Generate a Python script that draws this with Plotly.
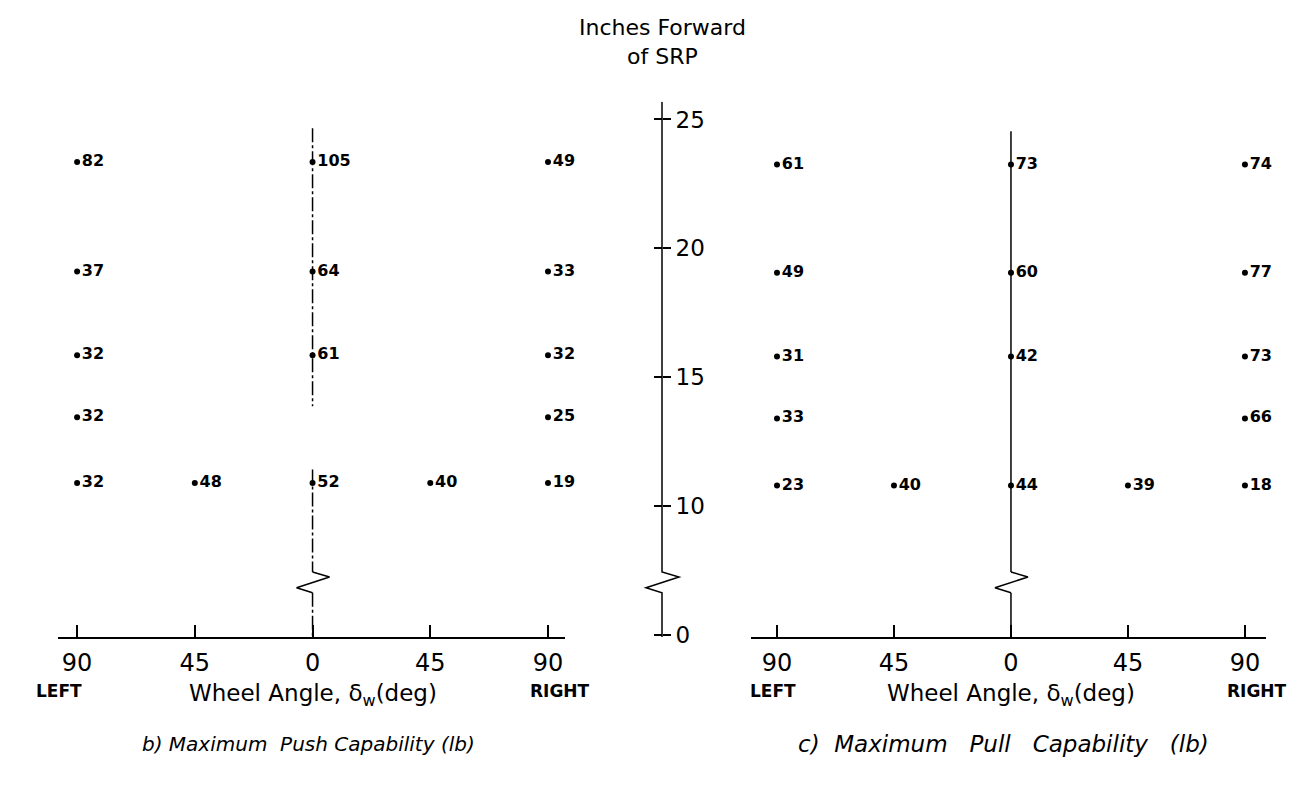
import plotly.graph_objects as go

W, H = 1305, 788

# ---------------- data ----------------
angles = [-90, -45, 0, 45, 90]
angle_labels = ["90", "45", "0", "45", "90"]
y_ticks = [5, 10, 15, 20, 25]          # position 5 carries the "0" label (broken axis)
y_tick_labels = ["0", "10", "15", "20", "25"]

# row positions (inches forward of SRP)
push_rows = [23.35, 19.1, 15.85, 13.45, 10.9]
pull_rows = [23.25, 19.05, 15.8, 13.4, 10.8]

# b) Maximum push capability (lb), one list per wheel angle, rows top->bottom
push_L90 = [82, 37, 32, 32, 32]
push_L45 = [None, None, None, None, 48]
push_0 = [105, 64, 61, None, 52]
push_R45 = [None, None, None, None, 40]
push_R90 = [49, 33, 32, 25, 19]

# c) Maximum pull capability (lb)
pull_L90 = [61, 49, 31, 33, 23]
pull_L45 = [None, None, None, None, 40]
pull_0 = [73, 60, 42, None, 44]
pull_R45 = [None, None, None, None, 39]
pull_R90 = [74, 77, 73, 66, 18]

push_cols = [push_L90, push_L45, push_0, push_R45, push_R90]
pull_cols = [pull_L90, pull_L45, pull_0, pull_R45, pull_R90]

# ---------------- layout geometry ----------------
Y_RANGE = [4.92, 25.69]
Y_DOM = [(H - 638) / H, (H - 95) / H]
XL_DOM = [50 / W, 557 / W]
XL_RANGE = [-97.3, 96.5]
XR_DOM = [743 / W, 1258 / W]
XR_RANGE = [-100, 98.1]
AXIS_X = 654 / W

FONT = "DejaVu Sans"


def px_to_y(py):
    top, bot = H - Y_DOM[1] * H, H - Y_DOM[0] * H
    return Y_RANGE[1] - (py - top) / (bot - top) * (Y_RANGE[1] - Y_RANGE[0])


def dx_deg(dpx, dom, rng):
    return dpx * (rng[1] - rng[0]) / ((dom[1] - dom[0]) * W)


def flatten(cols, rows):
    xs, ys, ts = [], [], []
    for a, col in zip(angles, cols):
        for r, v in zip(rows, col):
            if v is not None:
                xs.append(a)
                ys.append(r)
                ts.append(str(v))
    return xs, ys, ts


fig = go.Figure()

# zig-zag break symbol (pixel offsets) used on the zero lines and centre axis
ZZ_PX = [(0, 572), (17, 577), (-16, 588), (0, 593)]


def add_line(xa, sx, sy, dash):
    fig.add_trace(go.Scatter(
        x=sx, y=sy, mode="lines", line=dict(color="black", width=1.5, dash=dash),
        xaxis=xa, yaxis="y", showlegend=False, hoverinfo="skip"))


def zero_line(xa, dom, rng, top_px, dash, gap=None):
    zz_x = [dx_deg(dx, dom, rng) for dx, _ in ZZ_PX]
    zz_y = [px_to_y(py) for _, py in ZZ_PX]
    if gap:
        add_line(xa, [0, 0], [px_to_y(top_px), px_to_y(gap[0])], dash)
        add_line(xa, [0, 0], [px_to_y(gap[1]), zz_y[0]], dash)
    else:
        add_line(xa, [0, 0], [px_to_y(top_px), zz_y[0]], dash)
    add_line(xa, zz_x, zz_y, "solid")
    add_line(xa, [0, 0], [zz_y[-1], Y_RANGE[0]], dash)


zero_line("x", XL_DOM, XL_RANGE, 122, "14px,3px,3px,3px", gap=(404, 468))
zero_line("x2", XR_DOM, XR_RANGE, 125, "solid")

for cols, rows, xa in [(push_cols, push_rows, "x"), (pull_cols, pull_rows, "x2")]:
    xs, ys, ts = flatten(cols, rows)
    fig.add_trace(go.Scatter(
        x=xs, y=ys, text=ts, mode="markers+text", textposition="middle right",
        marker=dict(color="black", size=6),
        textfont=dict(family=FONT, size=16, color="black", weight="bold"),
        xaxis=xa, yaxis="y", showlegend=False, hoverinfo="skip", cliponaxis=False))

# invisible trace to materialise the second (left-tick) y axis
fig.add_trace(go.Scatter(x=[0], y=[10], mode="markers", marker=dict(opacity=0),
                         xaxis="x", yaxis="y2", showlegend=False, hoverinfo="skip"))

# centre axis line with break
pts = [(0, 95)] + ZZ_PX + [(0, 638)]
path = "M " + " L ".join(f"{AXIS_X + dx / W},{px_to_y(py)}" for dx, py in pts)
fig.add_shape(type="path", path=path, xref="paper", yref="y",
              line=dict(color="black", width=1.5))

axis_common = dict(showgrid=False, zeroline=False, tickvals=angles, ticktext=angle_labels,
                   ticks="inside", ticklen=12, tickwidth=1.5, tickcolor="black",
                   showline=True, linecolor="black", linewidth=1.5,
                   tickfont=dict(family=FONT, size=24, color="black"),
                   ticklabelstandoff=3, anchor="y", fixedrange=True)

fig.update_layout(
    width=W, height=H, margin=dict(l=0, r=0, t=0, b=0),
    paper_bgcolor="white", plot_bgcolor="white",
    xaxis=dict(domain=XL_DOM, range=XL_RANGE, **axis_common),
    xaxis2=dict(domain=XR_DOM, range=XR_RANGE, **axis_common),
    yaxis=dict(domain=Y_DOM, range=Y_RANGE, anchor="free", position=AXIS_X, side="right",
               showgrid=False, zeroline=False, showline=False,
               tickvals=y_ticks, ticktext=y_tick_labels, ticks="outside", ticklen=8,
               tickwidth=1.5, tickcolor="black",
               tickfont=dict(family=FONT, size=23, color="black")),
    yaxis2=dict(domain=Y_DOM, range=Y_RANGE, anchor="free", position=AXIS_X, side="left",
                overlaying="y", showgrid=False, zeroline=False, showline=False,
                tickvals=y_ticks, ticks="outside", ticklen=8, tickwidth=1.5,
                tickcolor="black", showticklabels=False),
    showlegend=False,
)

ann_font = dict(family=FONT, color="black")
anns = [
    dict(text="Inches Forward<br>of SRP", x=AXIS_X, y=(H - 34) / H, xref="paper", yref="paper",
         font=dict(size=22, **ann_font)),
]
for xa, dom, lx, rx, sub, subx, subsize in [
    ("x", XL_DOM, -18, 12, "<i>b) Maximum  Push Capability (lb)</i>", 300, 20),
    ("x2", XR_DOM, -4, 12, "<i>c)  Maximum   Pull   Capability   (lb)</i>", 995, 23),
]:
    anns += [
        dict(text="<b>LEFT</b>", x=-90, xref=xa, xshift=lx, y=(H - 693) / H, yref="paper",
             font=dict(size=17, **ann_font)),
        dict(text="<b>RIGHT</b>", x=90, xref=xa, xshift=rx, y=(H - 693) / H, yref="paper",
             font=dict(size=17, **ann_font)),
        dict(text="Wheel Angle, δ<sub>w</sub>(deg)", x=0, xref=xa, y=(H - 697) / H,
             yref="paper", font=dict(size=23, **ann_font)),
        dict(text=sub, x=subx / W, xref="paper", y=(H - 746) / H, yref="paper",
             font=dict(size=subsize, **ann_font)),
    ]
for a in anns:
    a.update(showarrow=False, xanchor="center", yanchor="middle")
fig.update_layout(annotations=anns)

fig.write_html("out.html")
